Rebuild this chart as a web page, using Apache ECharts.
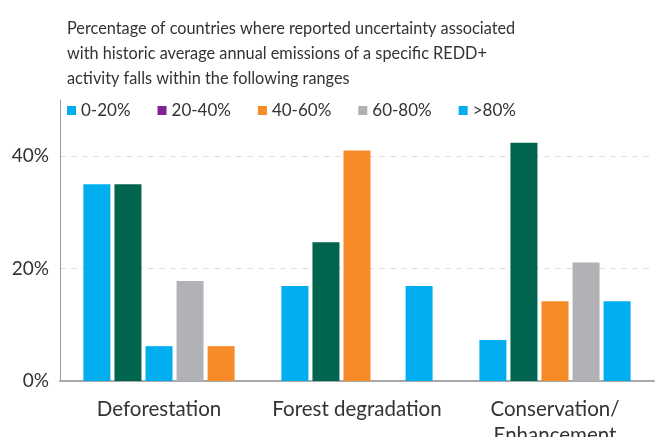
<!DOCTYPE html>
<html>
<head>
  <meta charset="utf-8" />
  <title>REDD+ uncertainty ranges</title>
  <script src="https://cdn.jsdelivr.net/npm/echarts@6/dist/echarts.min.js"></script>
  <style>
    html, body { margin: 0; padding: 0; background: #fff; }
    #main { width: 662px; height: 437px; }
  </style>
</head>
<body>
<div id="main"></div>
<script>
  // data
  var categories = ['Deforestation', 'Forest degradation', 'Conservation/\nEnhancement'];
  var rangeNames = ['0-20%', '20-40%', '40-60%', '60-80%', '>80%'];
  var s0to20 = [35.0, 16.9, 7.3];
  var s20to40 = [35.0, 24.7, 42.4];
  var s40to60 = [6.2, 41.0, 14.2];
  var s60to80 = [17.8, null, 21.1];
  var sOver80 = [6.2, 16.9, 14.2];
  var yTicks = [0, 20, 40];

  var blue = '#00aeef', purple = '#7f2390', orange = '#f68b28', grey = '#b1b2b5', green = '#00644e';
  var legendColors = [blue, purple, orange, grey, blue];
  // bar colours as drawn (they don't all follow the legend)
  var barColors = [
    [blue, blue, blue],
    [green, green, green],
    [blue, orange, orange],
    [grey, grey, grey],
    [orange, blue, blue]
  ];
  var values = [s0to20, s20to40, s40to60, s60to80, sOver80];

  var chart = echarts.init(document.getElementById('main'));
  var font = 'Lato';

  var series = values.map(function (vals, i) {
    return {
      name: rangeNames[i],
      type: 'bar',
      barWidth: 27,
      barGap: '15%',
      itemStyle: { color: legendColors[i] },
      data: vals.map(function (v, j) {
        return { value: v, itemStyle: { color: barColors[i][j] } };
      })
    };
  });

  chart.setOption({
    animation: false,
    title: {
      text: 'Percentage of countries where reported uncertainty associated\nwith historic average annual emissions of a specific REDD+\nactivity falls within the following ranges',
      left: 62, top: 11,
      textStyle: { fontFamily: font, fontSize: 16.3, fontWeight: 'normal', color: '#333', lineHeight: 25 }
    },
    legend: {
      left: 62, top: 97,
      itemWidth: 9, itemHeight: 9, itemGap: 27,
      icon: 'rect',
      textStyle: { fontFamily: font, fontSize: 17, color: '#333', padding: [0, 0, 0, 0] },
      data: rangeNames
    },
    grid: { left: 60, right: 8, top: 100, bottom: 56, outerBoundsMode: 'none' },
    xAxis: {
      type: 'category',
      data: categories,
      axisTick: { show: false },
      axisLine: { lineStyle: { color: '#a8a8a8', width: 2 } },
      axisLabel: { interval: 0, fontFamily: font, fontSize: 20.5, color: '#333', margin: 15, lineHeight: 26 }
    },
    yAxis: {
      type: 'value',
      min: 0, max: 50, interval: 20,
      axisLine: { show: true, lineStyle: { color: '#999', width: 1 } },
      axisTick: { show: false },
      axisLabel: {
        fontFamily: font, fontSize: 19, color: '#333', margin: 11, showMaxLabel: false,
        formatter: function (v) { return yTicks.indexOf(v) >= 0 ? v + '%' : ''; }
      },
      splitLine: { showMaxLine: false, lineStyle: { color: '#ddd', type: [6, 5], width: 1 } }
    },
    series: series
  });
</script>
</body>
</html>
